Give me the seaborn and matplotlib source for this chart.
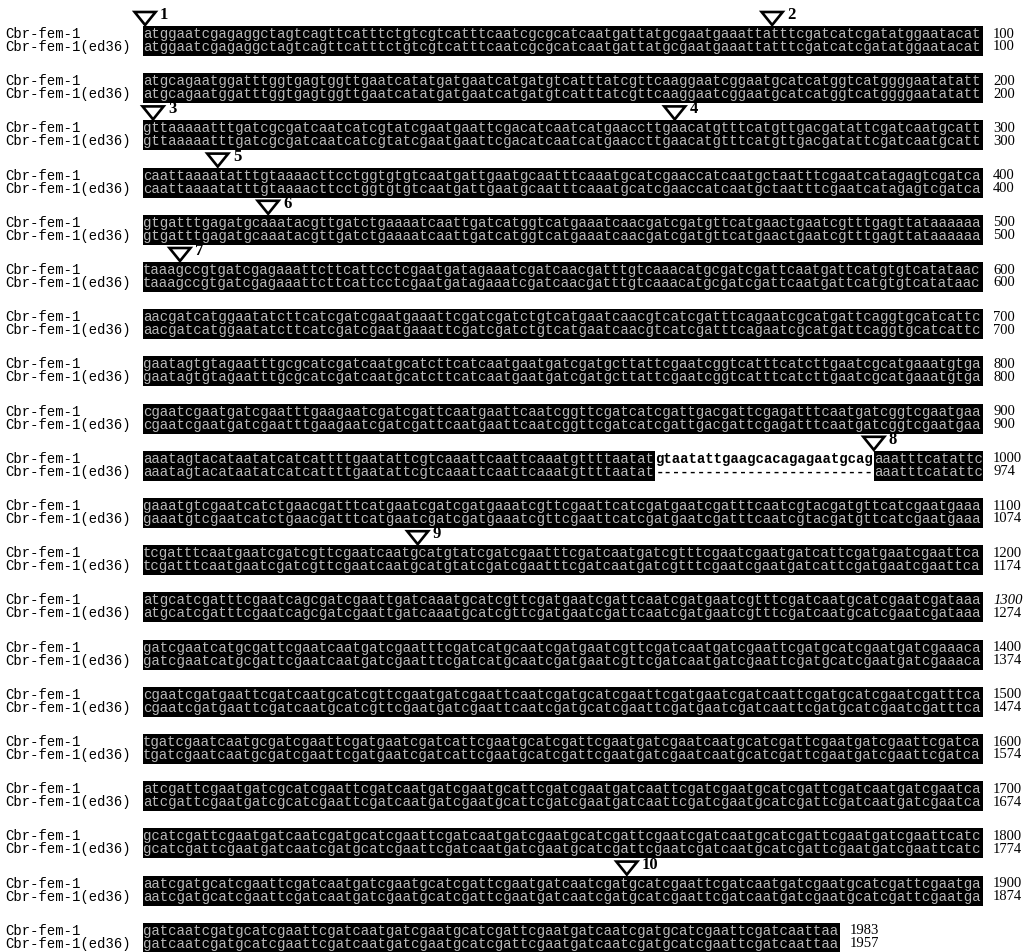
import matplotlib
matplotlib.use("Agg")
import matplotlib.pyplot as plt
from matplotlib.patches import Polygon
import seaborn as sns

# ---- sequence data -------------------------------------------------------
SEQ_NAMES = ["Cbr-fem-1", "Cbr-fem-1(ed36)"]

FEM1_ROWS = [
    "atggaatcga gaggctagtc agttcatttc tgtcgtcatt tcaatcgcgc atcaatgatt atgcgaatga aattatttcg atcatcgata tggaatacat",
    "atgcagaatg gatttggtga gtggttgaat catatgatga atcatgatgt catttatcgt tcaaggaatc ggaatgcatc atggtcatgg ggaatatatt",
    "gttaaaaatt tgatcgcgat caatcatcgt atcgaatgaa ttcgacatca atcatgaacc ttgaacatgt ttcatgttga cgatattcga tcaatgcatt",
    "caattaaaat atttgtaaaa cttcctggtg tgtcaatgat tgaatgcaat ttcaaatgca tcgaaccatc aatgctaatt tcgaatcata gagtcgatca",
    "gtgatttgag atgcaaatac gttgatctga aaatcaattg atcatggtca tgaaatcaac gatcgatgtt catgaactga atcgtttgag ttataaaaaa",
    "taaagccgtg atcgagaaat tcttcattcc tcgaatgata gaaatcgatc aacgatttgt caaacatgcg atcgattcaa tgattcatgt gtcatataac",
    "aacgatcatg gaatatcttc atcgatcgaa tgaaattcga tcgatctgtc atgaatcaac gtcatcgatt tcagaatcgc atgattcagg tgcatcattc",
    "gaatagtgta gaatttgcgc atcgatcaat gcatcttcat caatgaatga tcgatgctta ttcgaatcgg tcatttcatc ttgaatcgca tgaaatgtga",
    "cgaatcgaat gatcgaattt gaagaatcga tcgattcaat gaattcaatc ggttcgatca tcgattgacg attcgagatt tcaatgatcg gtcgaatgaa",
    "aaatagtaca taatatcatc attttgaata ttcgtcaaat tcaattcaaa tgttttaata tgtaatattg aagcacagag aatgcagaaa tttcatattc",
    "gaaatgtcga atcatctgaa cgatttcatg aatcgatcga tgaaatcgtt cgaattcatc gatgaatcga tttcaatcgt acgatgttca tcgaatgaaa",
    "tcgatttcaa tgaatcgatc gttcgaatca atgcatgtat cgatcgaatt tcgatcaatg atcgtttcga atcgaatgat cattcgatga atcgaattca",
    "atgcatcgat ttcgaatcag cgatcgaatt gatcaaatgc atcgttcgat gaatcgattc aatcgatgaa tcgtttcgat caatgcatcg aatcgataaa",
    "gatcgaatca tgcgattcga atcaatgatc gaatttcgat catgcaatcg atgaatcgtt cgatcaatga tcgaattcga tgcatcgaat gatcgaaaca",
    "cgaatcgatg aattcgatca atgcatcgtt cgaatgatcg aattcaatcg atgcatcgaa ttcgatgaat cgatcaattc gatgcatcga atcgatttca",
    "tgatcgaatc aatgcgatcg aattcgatga atcgatcatt cgaatgcatc gattcgaatg atcgaatcaa tgcatcgatt cgaatgatcg aattcgatca",
    "atcgattcga atgatcgcat cgaattcgat caatgatcga atgcattcga tcgaatgatc aattcgatcg aatgcatcga ttcgatcaat gatcgaatca",
    "gcatcgattc gaatgatcaa tcgatgcatc gaattcgatc aatgatcgaa tgcatcgatt cgaatcgatc aatgcatcga ttcgaatgat cgaattcatc",
    "aatcgatgca tcgaattcga tcaatgatcg aatgcatcga ttcgaatgat caatcgatgc atcgaattcg atcaatgatc gaatgcatcg attcgaatga",
    "gatcaatcga tgcatcgaat tcgatcaatg atcgaatgca tcgattcgaa tgatcaatcg atgcatcgaa ttcgatcaat taa",
]

# 26-nt stretch missing from the ed36 allele (0-based start in fem-1)
DELETION = "gtaatattgaagcacagagaatgcag"
DELETION_START = 961

# numbered triangles: label and position along fem-1 in nucleotides
MARKER_LABELS = [1, 2, 3, 4, 5, 6, 7, 8, 9, 10]
MARKER_POSITIONS = [0.25, 74.9, 201.2, 263.3, 308.9, 414.9, 504.4, 987.0, 1132.7, 1857.6]

ITALIC_NUMBERS = [1300]

# ---- layout --------------------------------------------------------------
DPI = 100
W, H = 1026, 952
X0 = 143           # left edge of the alignment blocks (px)
CW = 8.4           # width of one nucleotide column (px)
ROW_TOP0 = 26      # top of the first block (px)
ROW_PITCH = 47.2
BLOCK_H = 30
LINE_DY = (8, 21)  # centres of the two sequence lines inside a block
ROW_LEN = 100

SEQ_FONT = CW / 0.6 * 72 / DPI

fem1 = "".join(r.replace(" ", "") for r in FEM1_ROWS)
assert fem1[DELETION_START:DELETION_START + len(DELETION)] == DELETION
ed36_aligned = (fem1[:DELETION_START] + "-" * len(DELETION)
                + fem1[DELETION_START + len(DELETION):])
aligned = [fem1, ed36_aligned]

sns.set_theme(style="white")
plt.rcParams["font.family"] = ["Liberation Mono", "DejaVu Sans Mono"]

fig = plt.figure(figsize=(W / DPI, H / DPI), dpi=DPI)
ax = fig.add_axes([0, 0, 1, 1])
ax.set_xlim(0, W)
ax.set_ylim(H, 0)
ax.axis("off")

n_rows = (len(fem1) + ROW_LEN - 1) // ROW_LEN


def runs(mask):
    """Split a boolean list into (start, end, value) runs."""
    out = []
    start = 0
    for i in range(1, len(mask) + 1):
        if i == len(mask) or mask[i] != mask[start]:
            out.append((start, i, mask[start]))
            start = i
    return out


for r in range(n_rows):
    top = ROW_TOP0 + r * ROW_PITCH
    lo, hi = r * ROW_LEN, min((r + 1) * ROW_LEN, len(fem1))
    segs = [s[lo:hi] for s in aligned]
    # block is black wherever both sequences are present
    shaded = [c != "-" for c in segs[1]]
    for a, b, on in runs(shaded):
        if on:
            ax.broken_barh([(X0 + a * CW, (b - a) * CW)], (top, BLOCK_H),
                           facecolors="black", edgecolors="none")
    for k, seg in enumerate(segs):
        y = top + LINE_DY[k]
        ax.text(5, y, SEQ_NAMES[k], fontsize=10, va="center", ha="left",
                color="black")
        for a, b, on in runs(shaded):
            piece = seg[a:b]
            ax.text(X0 + a * CW, y, piece, fontsize=SEQ_FONT, va="center",
                    ha="left", color="#b8b8b8" if on else "black",
                    fontweight="normal" if on else "bold")
        count = sum(1 for c in aligned[k][:hi] if c != "-")
        ax.text(X0 + (hi - lo) * CW + 10, y, str(count), fontsize=10.5,
                va="center", ha="left", family="Liberation Serif",
                style="italic" if (k == 0 and count in ITALIC_NUMBERS) else "normal",
                color="black")

# numbered exon-junction triangles
for lab, pos in zip(MARKER_LABELS, MARKER_POSITIONS):
    r = int(pos // ROW_LEN)
    col = pos - r * ROW_LEN
    cx = X0 + col * CW
    tip = ROW_TOP0 + r * ROW_PITCH - 1
    tri = Polygon([(cx - 10.5, tip - 13), (cx + 10.5, tip - 13), (cx, tip)],
                  closed=True, facecolor="white", edgecolor="black",
                  linewidth=1.9, joinstyle="miter", zorder=5)
    ax.add_patch(tri)
    ax.text(cx + 15, tip - 10, str(lab), fontsize=12, va="center", ha="left",
            family="Liberation Serif", fontweight="bold", color="black",
            zorder=6)

fig.savefig("out.png", dpi=DPI, facecolor="white")
